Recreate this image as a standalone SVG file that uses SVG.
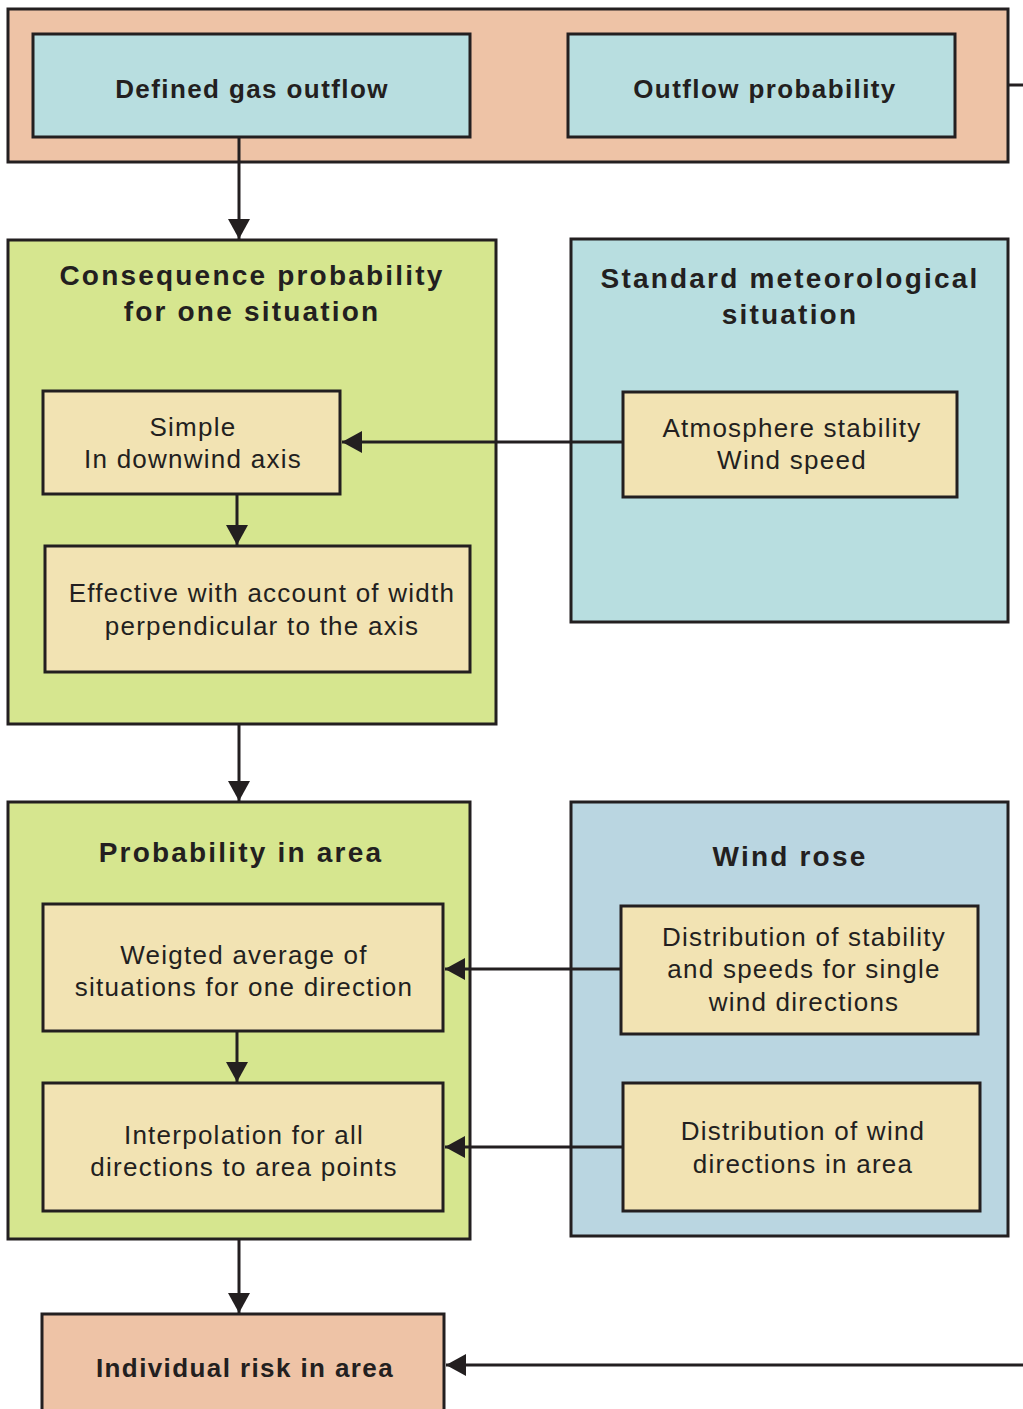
<svg xmlns="http://www.w3.org/2000/svg" width="1023" height="1409" viewBox="0 0 1023 1409">
<defs>
<marker id="arr" viewBox="0 0 20 22" refX="20" refY="11" markerWidth="20" markerHeight="22" markerUnits="userSpaceOnUse" orient="auto">
<path d="M0,0 L20,11 L0,22 Z" fill="#231f20"/>
</marker>
<style>
rect{stroke:#231f20;stroke-width:3}
.peach{fill:#eec3a6}
.cyan{fill:#b8dee0}
.green{fill:#d6e68f}
.yel{fill:#f2e3b3}
.wind{fill:#bad6e1}
text{font-family:"Liberation Sans",Arial,sans-serif;fill:#231f20;text-anchor:middle}
.t{font-size:28px;font-weight:bold;letter-spacing:2.2px}
.b{font-size:26px;font-weight:bold;letter-spacing:1.4px}
.n{font-size:26px;letter-spacing:1.25px}
.c path{stroke:#231f20;stroke-width:3;fill:none}
</style>
</defs>
<rect width="1023" height="1409" fill="#ffffff" style="stroke:none"/>
<g id="outflow">
<rect class="peach" x="8" y="9" width="1000" height="153"/>
</g>
<g id="defined-gas-outflow">
<rect class="cyan" x="33" y="34" width="437" height="103"/>
<text class="b" x="252" y="98">Defined gas outflow</text>
</g>
<g id="outflow-probability">
<rect class="cyan" x="568" y="34" width="387" height="103"/>
<text class="b" x="765" y="98">Outflow probability</text>
</g>
<g id="consequence">
<rect class="green" x="8" y="240" width="488" height="484"/>
<text class="t" x="252" y="285">Consequence probability</text>
<text class="t" x="252" y="321">for one situation</text>
</g>
<g id="simple">
<rect class="yel" x="43" y="391" width="297" height="103"/>
<text class="n" x="193" y="436">Simple</text>
<text class="n" x="193" y="468">In downwind axis</text>
</g>
<g id="effective">
<rect class="yel" x="45" y="546" width="425" height="126"/>
<text class="n" x="262" y="602">Effective with account of width</text>
<text class="n" x="262" y="635">perpendicular to the axis</text>
</g>
<g id="standard-met">
<rect class="cyan" x="571" y="239" width="437" height="383"/>
<text class="t" x="790" y="288">Standard meteorological</text>
<text class="t" x="790" y="324">situation</text>
</g>
<g id="atmosphere">
<rect class="yel" x="623" y="392" width="334" height="105"/>
<text class="n" x="792" y="437">Atmosphere stability</text>
<text class="n" x="792" y="469">Wind speed</text>
</g>
<g id="probability-area">
<rect class="green" x="8" y="802" width="462" height="437"/>
<text class="t" x="241" y="862">Probability in area</text>
</g>
<g id="weighted">
<rect class="yel" x="43" y="904" width="400" height="127"/>
<text class="n" x="244" y="964">Weigted average of</text>
<text class="n" x="244" y="996">situations for one direction</text>
</g>
<g id="interpolation">
<rect class="yel" x="43" y="1083" width="400" height="128"/>
<text class="n" x="244" y="1144">Interpolation for all</text>
<text class="n" x="244" y="1176">directions to area points</text>
</g>
<g id="wind-rose">
<rect class="wind" x="571" y="802" width="437" height="434"/>
<text class="t" x="790" y="866">Wind rose</text>
</g>
<g id="dist-stability">
<rect class="yel" x="621" y="906" width="357" height="128"/>
<text class="n" x="804" y="946">Distribution of stability</text>
<text class="n" x="804" y="978">and speeds for single</text>
<text class="n" x="804" y="1011">wind directions</text>
</g>
<g id="dist-wind">
<rect class="yel" x="623" y="1083" width="357" height="128"/>
<text class="n" x="803" y="1140">Distribution of wind</text>
<text class="n" x="803" y="1173">directions in area</text>
</g>
<g id="individual-risk">
<rect class="peach" x="42" y="1314" width="402" height="110"/>
<text class="b" x="245" y="1377">Individual risk in area</text>
</g>
<g id="connectors" class="c">
<path d="M1008,85 H1023"/>
<path d="M239,137 V239" marker-end="url(#arr)"/>
<path d="M623,442 H342" marker-end="url(#arr)"/>
<path d="M237,494 V545" marker-end="url(#arr)"/>
<path d="M239,724 V801" marker-end="url(#arr)"/>
<path d="M621,969 H445" marker-end="url(#arr)"/>
<path d="M237,1031 V1082" marker-end="url(#arr)"/>
<path d="M623,1147 H445" marker-end="url(#arr)"/>
<path d="M239,1239 V1313" marker-end="url(#arr)"/>
<path d="M1023,1365 H446" marker-end="url(#arr)"/>
</g>
</svg>
